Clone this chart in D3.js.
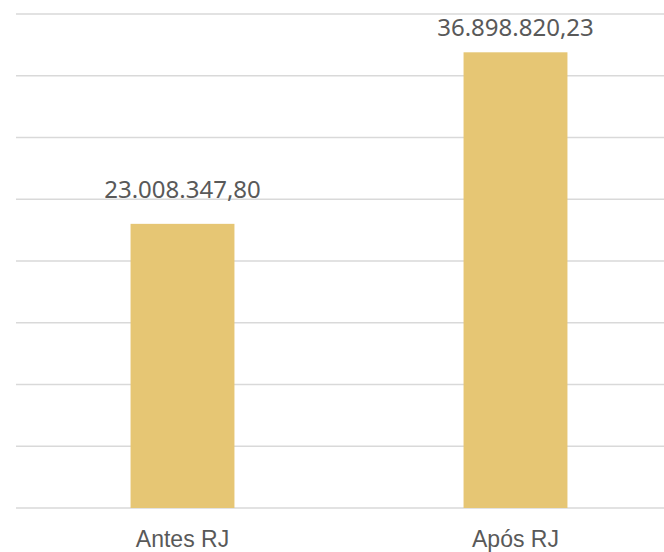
<!DOCTYPE html>
<html><head><meta charset="utf-8">
<script src="https://cdn.jsdelivr.net/npm/d3@7"></script>
<style>html,body{margin:0;padding:0;background:#fff;overflow:hidden}</style>
</head><body>
<svg id="c" width="664" height="552"></svg>
<script>
const categories = ["Antes RJ", "Após RJ"];
const values = [23008347.80, 36898820.23];
const labels = ["23.008.347,80", "36.898.820,23"];
const yTicks = [0, 5e6, 10e6, 15e6, 20e6, 25e6, 30e6, 35e6, 40e6];

const svg = d3.select("#c");
const x = d3.scaleBand().domain(categories).range([16, 682]).paddingInner(0.688).paddingOuter(0.344);
const y = d3.scaleLinear().domain([0, 40e6]).range([508, 14]);

svg.append("g").selectAll("line").data(yTicks).join("line")
  .attr("x1", 16).attr("x2", 664)
  .attr("y1", d => y(d)).attr("y2", d => y(d))
  .attr("stroke", "#d9d9d9").attr("stroke-width", 1.5);

svg.append("g").selectAll("rect").data(values).join("rect")
  .attr("x", (d, i) => x(categories[i]))
  .attr("width", x.bandwidth())
  .attr("y", d => y(d))
  .attr("height", d => y(0) - y(d))
  .attr("fill", "#e6c674");

svg.append("g").selectAll("text").data(values).join("text")
  .attr("x", (d, i) => x(categories[i]) + x.bandwidth() / 2)
  .attr("y", d => Math.max(y(d) - 26, 36))
  .attr("text-anchor", "middle")
  .attr("font-family", "'Noto Sans', sans-serif").attr("font-size", 24)
  .attr("fill", "#595959")
  .text((d, i) => labels[i]);

svg.append("g").selectAll("text").data(categories).join("text")
  .attr("x", d => x(d) + x.bandwidth() / 2)
  .attr("y", 547)
  .attr("text-anchor", "middle")
  .attr("font-family", "'Liberation Sans', Arial, sans-serif").attr("font-size", 23)
  .attr("fill", "#595959")
  .text(d => d);
</script>
</body></html>
